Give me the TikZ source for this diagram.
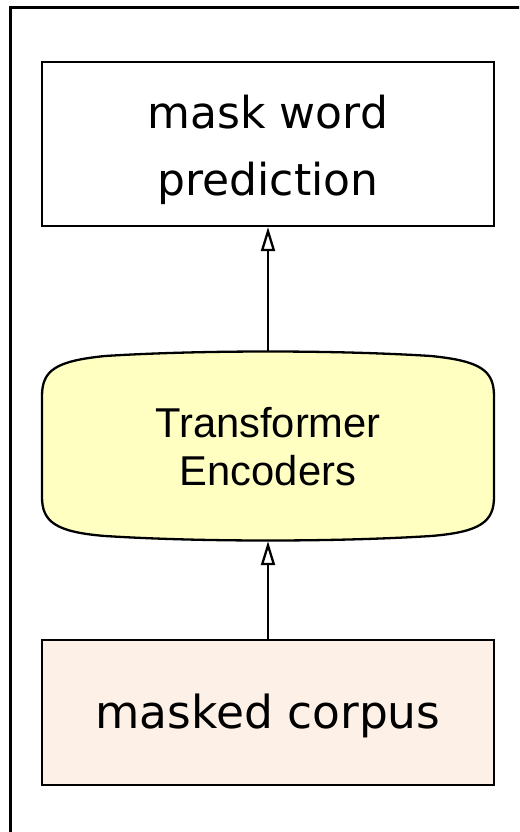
\documentclass[tikz,border=0pt]{standalone}
\usepackage{fontspec}
\setmainfont{DejaVu Sans}
\newfontfamily\helv{Liberation Sans}
\usetikzlibrary{arrows.meta}
\definecolor{encfill}{RGB}{255,255,194}
\definecolor{corpusfill}{RGB}{253,240,231}
\begin{document}
\begin{tikzpicture}[x=1pt,y=-1pt,
  box/.style={draw=black,line width=2.3pt,minimum width=452pt,inner sep=0pt,
    align=center},
  link/.style={draw=black,line width=2.3pt,
    -{Triangle[open,width=14pt,length=24pt]}}]
  \useasboundingbox (0,0) rectangle (519,832);
  \clip (0,0) rectangle (519,832);
  % outer frame, running past the right and bottom edges
  \draw[line width=2.6pt] (10.5,7.5) rectangle (540,860);

  % output box
  \node[box,minimum height=164pt,text height=112pt,text depth=10pt,
    font=\fontsize{44}{67}\selectfont] (pred) at (268,144) {mask word\\prediction};

  % encoder block: rounded shape with bowed top and bottom edges
  \fill[encfill,draw=black,line width=2.3pt]
    (42,446) -- (42,396)
    .. controls (42,370) and (56,361) .. (105,356)
    .. controls (200,350) and (336,350) .. (431,356)
    .. controls (480,361) and (494,370) .. (494,396)
    -- (494,497)
    .. controls (494,522) and (480,532) .. (431,536)
    .. controls (336,542) and (200,542) .. (105,536)
    .. controls (56,532) and (42,522) .. (42,497) -- cycle;
  \node[minimum width=452pt,minimum height=189pt,inner sep=0pt,align=center,
    font=\helv\fontsize{41.7}{48}\selectfont] (enc) at (268,446.5)
    {Transformer\\Encoders};

  % input box
  \node[box,fill=corpusfill,minimum height=145pt,text height=41pt,text depth=10pt,
    font=\fontsize{45.5}{60}\selectfont] (corpus) at (268,712.5) {masked corpus};

  \draw[link] (corpus.north) -- (enc.south);
  \draw[link] (enc.north) -- (pred.south);
\end{tikzpicture}
\end{document}
